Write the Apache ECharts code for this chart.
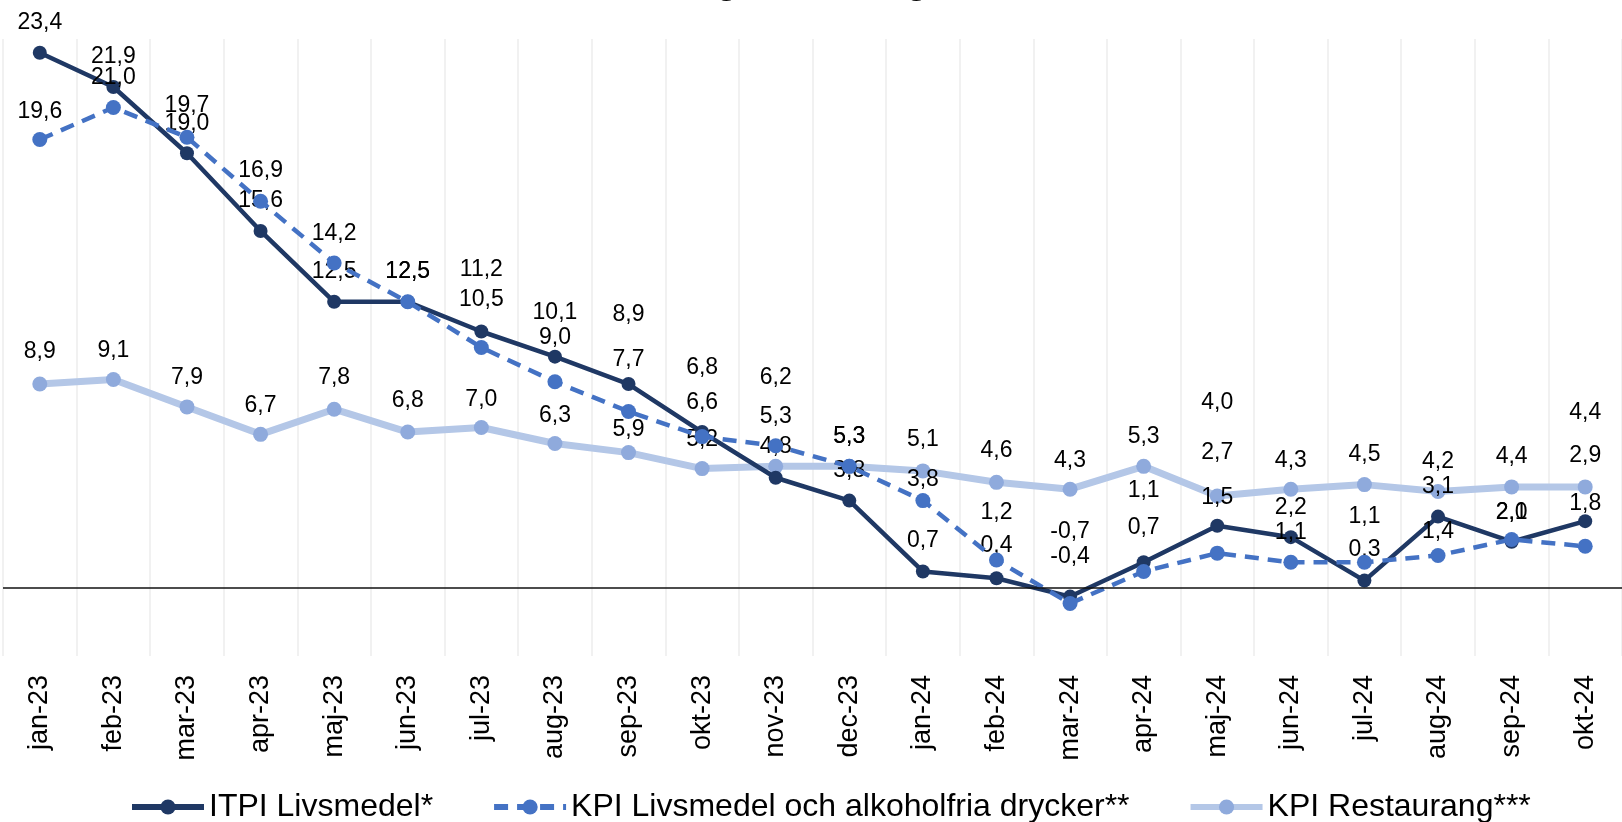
<!DOCTYPE html>
<html>
<head>
<meta charset="utf-8">
<script src="https://cdn.jsdelivr.net/npm/echarts@6/dist/echarts.min.js"></script>
<style>
  html, body { margin: 0; padding: 0; background: #fff; }
  #chart { width: 1622px; height: 822px; }
</style>
</head>
<body>
<div id="chart"></div>
<script>
// months on the x axis
const categories = ['jan-23', 'feb-23', 'mar-23', 'apr-23', 'maj-23', 'jun-23', 'jul-23', 'aug-23', 'sep-23', 'okt-23', 'nov-23', 'dec-23',
  'jan-24', 'feb-24', 'mar-24', 'apr-24', 'maj-24', 'jun-24', 'jul-24', 'aug-24', 'sep-24', 'okt-24']

// yearly change, percent
const itpiLivsmedel = [23.4, 21.9, 19.0, 15.6, 12.5, 12.5, 11.2, 10.1, 8.9, 6.8, 4.8, 3.8, 0.7, 0.4, -0.4, 1.1, 2.7, 2.2, 0.3, 3.1, 2.0, 2.9]
const kpiLivsmedel = [19.6, 21.0, 19.7, 16.9, 14.2, 12.5, 10.5, 9.0, 7.7, 6.6, 6.2, 5.3, 3.8, 1.2, -0.7, 0.7, 1.5, 1.1, 1.1, 1.4, 2.1, 1.8]
const kpiRestaurang = [8.9, 9.1, 7.9, 6.7, 7.8, 6.8, 7.0, 6.3, 5.9, 5.2, 5.3, 5.3, 5.1, 4.6, 4.3, 5.3, 4.0, 4.3, 4.5, 4.2, 4.4, 4.4]

const seriesNames = ['ITPI Livsmedel*', 'KPI Livsmedel och alkoholfria drycker**', 'KPI Restaurang***']

// label placement (vertical shift of each data label, px) - labels were moved by hand in the original
const itpiLabelDy = [-30, -30, -30, -30, -30, -30, -62, -44, -69, -64, -31, -30, -31, -33, -40, -72, -73, -30, -31, -30, -29, -66]
const kpiLabelDy = [-28, -30, -32, -31, -29, -30, -48, -44, -52, -34, -68, -30, -21, -47, -72, -44, -56, -30, -46, -24, -27, -43]
const restLabelDy = [-32, -29, -29, -29, -32, -31, -28, -28, -23, -29, -50, -30, -31, -32, -29, -30, -93, -29, -30, -30, -30, -74]

const font = "'Liberation Sans', Arial, sans-serif"
const fmt = v => v.toFixed(1).replace('.', ',')

const withLabels = (values, dy) => values.map((v, i) => ({
  value: v,
  label: { offset: [0, dy[i]] }
}))

const labelStyle = {
  show: true,
  position: 'inside',
  color: '#000',
  fontFamily: font,
  fontSize: 23,
  formatter: p => fmt(p.value)
}

const chart = echarts.init(document.getElementById('chart'))

const option = {
  animation: false,
  backgroundColor: '#fff',
  // title sits above the picture, only the descenders peek in
  graphic: [
    {
      type: 'text',
      x: 656,
      y: 1,
      silent: true,
      style: {
        text: 'Årlig förändring, %',
        font: "bold 36px 'Liberation Sans', Arial, sans-serif",
        fill: '#000',
        verticalAlign: 'bottom'
      }
    }
  ],
  grid: {
    left: 3,
    right: -9,
    top: 39,
    bottom: 166,
    containLabel: false
  },
  legend: {
    top: 786,
    left: 124,
    itemWidth: 72,
    itemHeight: 19,
    itemGap: 58,
    lineStyle: { width: 6 },
    textStyle: {
      fontFamily: font,
      fontSize: 32,
      color: '#000'
    },
    data: seriesNames
  },
  xAxis: {
    type: 'category',
    data: categories,
    boundaryGap: true,
    axisLine: { show: false, onZero: false },
    axisTick: { show: false },
    splitLine: {
      show: true,
      lineStyle: { color: '#ececec', width: 1.5 }
    },
    axisLabel: {
      rotate: 90,
      margin: 19,
      fontFamily: font,
      fontSize: 27,
      color: '#000'
    }
  },
  yAxis: {
    type: 'value',
    min: -3,
    max: 24,
    interval: 3,
    show: false,
    splitLine: { show: false }
  },
  series: [
    {
      name: seriesNames[0],
      type: 'line',
      data: withLabels(itpiLivsmedel, itpiLabelDy),
      symbol: 'circle',
      symbolSize: 14,
      color: '#1f3864',
      lineStyle: { width: 4.5, color: '#1f3864' },
      itemStyle: { color: '#1f3864' },
      label: labelStyle,
      z: 3,
      markLine: {
        silent: true,
        symbol: 'none',
        label: { show: false },
        lineStyle: { color: '#111', width: 1.5, type: 'solid' },
        data: [{ yAxis: 0 }]
      }
    },
    {
      name: seriesNames[1],
      type: 'line',
      data: withLabels(kpiLivsmedel, kpiLabelDy),
      symbol: 'circle',
      symbolSize: 15,
      color: '#4472c4',
      lineStyle: { width: 4.5, color: '#4472c4', type: [14, 9] },
      itemStyle: { color: '#4472c4' },
      label: labelStyle,
      z: 4
    },
    {
      name: seriesNames[2],
      type: 'line',
      data: withLabels(kpiRestaurang, restLabelDy),
      symbol: 'circle',
      symbolSize: 15,
      color: '#8faadc',
      lineStyle: { width: 7, color: '#b4c7e7' },
      itemStyle: { color: '#8faadc' },
      label: labelStyle,
      z: 2
    }
  ]
}

chart.setOption(option)
</script>
</body>
</html>
